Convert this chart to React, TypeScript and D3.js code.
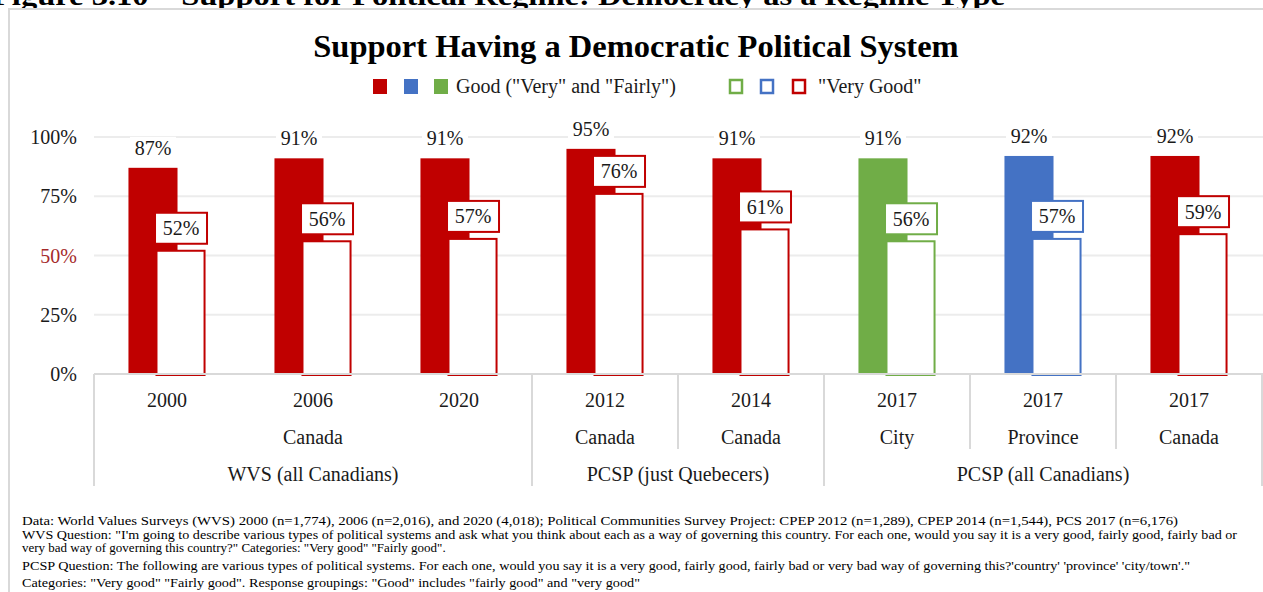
import React from "react";
import * as d3 from "d3";

const categories = ["2000", "2006", "2020", "2012", "2014", "2017", "2017", "2017"];
const goodValues = [87, 91, 91, 95, 91, 91, 92, 92];
const veryGoodValues = [52, 56, 57, 76, 61, 56, 57, 59];
const barSeriesColor = ["red", "red", "red", "red", "red", "green", "blue", "red"];
const level2Groups = [
  { label: "Canada", start: 0, end: 3 },
  { label: "Canada", start: 3, end: 4 },
  { label: "Canada", start: 4, end: 5 },
  { label: "City", start: 5, end: 6 },
  { label: "Province", start: 6, end: 7 },
  { label: "Canada", start: 7, end: 8 },
];
const level3Groups = [
  { label: "WVS (all Canadians)", start: 0, end: 3 },
  { label: "PCSP (just Quebecers)", start: 3, end: 5 },
  { label: "PCSP (all Canadians)", start: 5, end: 8 },
];
const yTicks = [0, 25, 50, 75, 100];
const footnotes = [
  "Data: World Values Surveys (WVS) 2000 (n=1,774), 2006 (n=2,016), and 2020 (4,018); Political Communities Survey Project: CPEP 2012 (n=1,289), CPEP 2014 (n=1,544), PCS 2017 (n=6,176)",
  "WVS Question: \"I'm going to describe various types of political systems and ask what you think about each as a way of governing this country. For each one, would you say it is a very good, fairly good, fairly bad or",
  "very bad way of governing this country?\" Categories: \"Very good\" \"Fairly good\".",
  "PCSP Question: The following are various types of political systems.  For each one, would you say it is a very good, fairly good, fairly bad or very bad way of governing this?'country' 'province' 'city/town'.\"",
  "Categories: \"Very good\" \"Fairly good\". Response groupings: \"Good\" includes \"fairly good\" and \"very good\"",
];
const footnoteEnds = [1178, 1237, null, 1190, 640];

const COLORS: Record<string, string> = { red: "#c00000", blue: "#4472c4", green: "#70ad47" };
const FONT = "'Liberation Serif', 'Times New Roman', serif";

export default function App() {
  const W = 1263, H = 592;
  const x0 = 94, x1 = 1262;
  const yBase = 374, yTop = 137;
  const x = d3.scaleBand<number>().domain(d3.range(categories.length)).range([x0, x1]).padding(0);
  const bw = x.bandwidth();
  const y = d3.scaleLinear().domain([0, 100]).range([yBase, yTop]);
  const barW = bw * 0.336;
  const fillOff = -bw * 0.264;
  const hollowOff = -bw * 0.072;
  const textColor = "#1a1a1a";
  const gridColor = "#ececec";
  const axisColor = "#d9d9d9";
  const fx0 = 22;

  return (
    <svg width={W} height={H} style={{ position: "absolute", left: 0, top: 0, background: "#fff" }} fontFamily={FONT}>
      <rect x={0} y={0} width={W} height={H} fill="#fff" />
      <text x={-8} y={5} fontSize={28} fontWeight="bold" fill="#000" textLength={1013} lengthAdjust="spacingAndGlyphs">
        Figure 3.10 – Support for Political Regime: Democracy as a Regime Type
      </text>
      <rect x={9} y={9} width={1400} height={800} fill="#fff" stroke={axisColor} strokeWidth={2} />
      <text x={636} y={57} fontSize={32.5} fontWeight="bold" textAnchor="middle" fill="#000">
        Support Having a Democratic Political System
      </text>
      {/* legend */}
      {["red", "blue", "green"].map((c, i) => (
        <rect key={"lf" + c} x={[373, 404, 434][i]} y={79} width={14} height={15} fill={COLORS[c]} />
      ))}
      <text x={456} y={93} fontSize={20} fill={textColor}>Good ("Very" and "Fairly")</text>
      {["green", "blue", "red"].map((c, i) => (
        <rect key={"lh" + c} x={[730, 761, 793][i]} y={80} width={12} height={13} fill="#fff" stroke={COLORS[c]} strokeWidth={2.5} />
      ))}
      <text x={818} y={93} fontSize={20} fill={textColor}>"Very Good"</text>

      {/* gridlines */}
      {yTicks.filter((t) => t > 0).map((t) => (
        <line key={"g" + t} x1={x0} x2={W} y1={y(t)} y2={y(t)} stroke={gridColor} strokeWidth={2} />
      ))}
      {yTicks.map((t) => (
        <text key={"yt" + t} x={77} y={y(t) + 7} fontSize={20} textAnchor="end" fill={t === 50 ? "#a52a2a" : textColor}>
          {t}%
        </text>
      ))}

      {/* bars */}
      {categories.map((_, i) => {
        const c = (x(i) as number) + bw / 2;
        const col = COLORS[barSeriesColor[i]];
        const gTop = y(goodValues[i]);
        const vTop = y(veryGoodValues[i]);
        const fx = c + fillOff;
        const hx = c + hollowOff;
        const hc = hx + barW / 2;
        const fc = fx + barW / 2;
        return (
          <g key={"b" + i}>
            <rect x={fx} y={gTop} width={barW} height={yBase - gTop} fill={col} />
            <rect x={hx} y={vTop} width={barW - 1} height={yBase - vTop + 1} fill="#fff" stroke={col} strokeWidth={2} />
            <rect x={fc - 23} y={gTop - 31} width={46} height={22} fill="#fff" />
            <text x={fc} y={gTop - 13} fontSize={20} textAnchor="middle" fill={textColor}>
              {goodValues[i]}%
            </text>
            <rect x={hc - 26} y={vTop - 38} width={52} height={31} fill="#fff" stroke={col} strokeWidth={2} />
            <text x={hc} y={vTop - 15.5} fontSize={20} textAnchor="middle" fill={textColor}>
              {veryGoodValues[i]}%
            </text>
          </g>
        );
      })}

      {/* category axis */}
      <line x1={x0} x2={W} y1={yBase} y2={yBase} stroke={axisColor} strokeWidth={2} />
      {level2Groups.map((g, i) => (
        <line key={"l2" + i} x1={x(g.start) as number} x2={x(g.start) as number} y1={yBase} y2={449} stroke={axisColor} strokeWidth={2} />
      ))}
      {level3Groups.map((g, i) => (
        <line key={"l3" + i} x1={x(g.start) as number} x2={x(g.start) as number} y1={yBase} y2={486} stroke={axisColor} strokeWidth={2} />
      ))}
      <line x1={x1} x2={x1} y1={yBase} y2={486} stroke={axisColor} strokeWidth={2} />
      {categories.map((cat, i) => (
        <text key={"c" + i} x={(x(i) as number) + bw / 2} y={407} fontSize={20} textAnchor="middle" fill={textColor}>
          {cat}
        </text>
      ))}
      {level2Groups.map((g, i) => (
        <text key={"t2" + i} x={((x(g.start) as number) + (g.end === categories.length ? x1 : (x(g.end) as number))) / 2} y={444} fontSize={20} textAnchor="middle" fill={textColor}>
          {g.label}
        </text>
      ))}
      {level3Groups.map((g, i) => (
        <text key={"t3" + i} x={((x(g.start) as number) + (g.end === categories.length ? x1 : (x(g.end) as number))) / 2} y={481} fontSize={20} textAnchor="middle" fill={textColor}>
          {g.label}
        </text>
      ))}

      {/* footnotes */}
      {footnotes.map((f, i) => {
        const end = footnoteEnds[i];
        const extra = end ? { textLength: end - fx0, lengthAdjust: "spacingAndGlyphs" } : {};
        return (
          <text key={"f" + i} x={fx0} y={[525, 539, 552, 570, 587][i]} fontSize={13} fill="#000" {...extra}>
            {f}
          </text>
        );
      })}
    </svg>
  );
}
